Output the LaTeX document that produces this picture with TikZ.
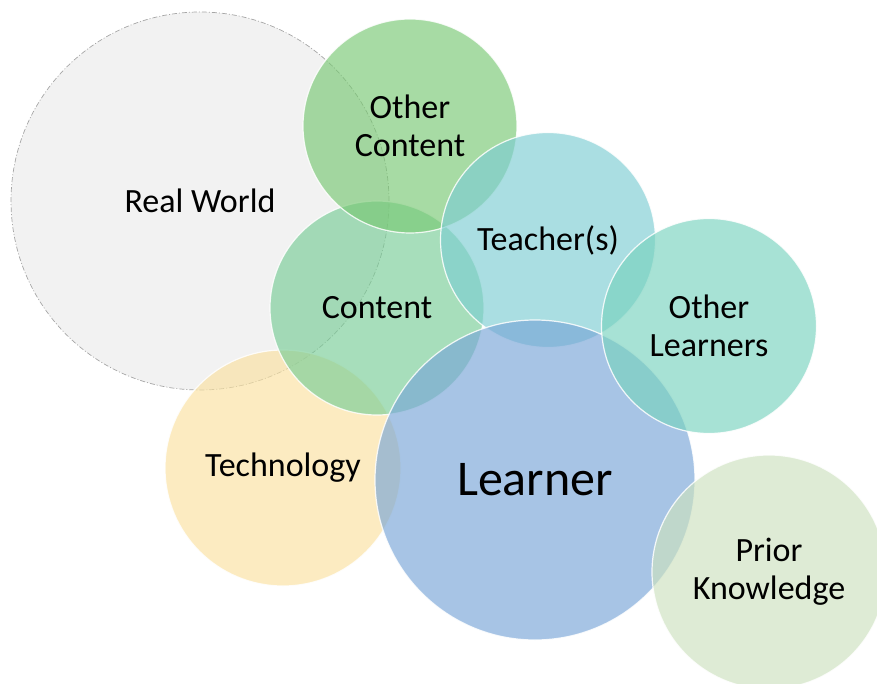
\documentclass[tikz,border=0pt]{standalone}
\usepackage{fontspec}
\setmainfont{Carlito}
\begin{document}
\begin{tikzpicture}[x=1pt,y=-1pt,
  bub/.style={circle, inner sep=0pt, align=center, draw=white, line width=1.2pt,
    draw opacity=0.85, fill opacity=0.65, text opacity=1,
    font=\fontsize{34}{38}\selectfont},
  rw/.style={circle, inner sep=0pt, align=center, fill=rwfill, draw=gray!70,
    line width=0.7pt, dash pattern=on 5pt off 2pt on 1pt off 2pt,
    font=\fontsize{34}{38}\selectfont}]
\definecolor{rwfill}{RGB}{242,242,242}
\definecolor{cOther}{RGB}{120,200,115}
\definecolor{cContent}{RGB}{120,205,150}
\definecolor{cTeach}{RGB}{125,205,210}
\definecolor{cOL}{RGB}{120,210,190}
\definecolor{cLearner}{RGB}{120,165,215}
\definecolor{cTech}{RGB}{250,225,160}
\definecolor{cPrior}{RGB}{205,225,190}
\useasboundingbox (0,0) rectangle (877,684);
\clip (0,0) rectangle (877,684);
\node[rw, minimum size=378pt] (real) at (200,201) {Real World};
\node[bub, fill=cTech, minimum size=236pt] (tech) at (283,468) {Technology};
\node[bub, fill=cContent, minimum size=214pt] (content) at (377,308) {Content};
\node[bub, fill=cOther, minimum size=214pt] (other) at (410,126) {Other\\Content};
\node[bub, fill=cTeach, minimum size=215pt] (teach) at (548,240) {Teacher(s)};
\node[bub, fill=cLearner, minimum size=320pt, font=\fontsize{50}{60}\selectfont] (learner) at (535,480) {Learner};
\node[bub, fill=cOL, minimum size=215pt] (ol) at (709,326) {Other\\Learners};
\node[bub, fill=cPrior, minimum size=234pt] (prior) at (769,572) {Prior\\Knowledge};
\end{tikzpicture}
\end{document}
